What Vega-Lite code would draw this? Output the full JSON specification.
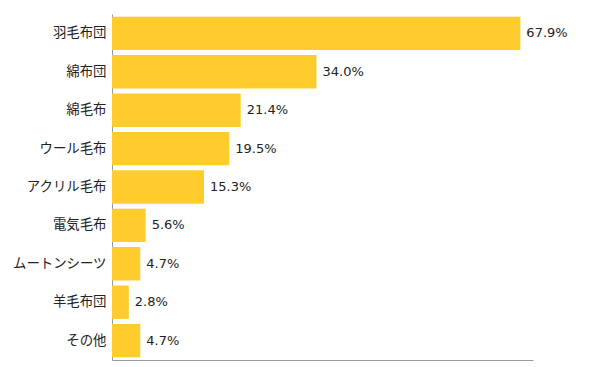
{
  "$schema": "https://vega.github.io/schema/vega-lite/v6.json",
  "width": 421,
  "height": 346,
  "autosize": {"type": "none"},
  "padding": {"left": 112, "top": 14, "right": 67, "bottom": 7},
  "background": "white",
  "config": {"view": {"stroke": null}, "font": "Noto Sans CJK JP"},
  "data": {"values": [
    {"item": "羽毛布団", "value": 0.679},
    {"item": "綿布団", "value": 0.340},
    {"item": "綿毛布", "value": 0.214},
    {"item": "ウール毛布", "value": 0.195},
    {"item": "アクリル毛布", "value": 0.153},
    {"item": "電気毛布", "value": 0.056},
    {"item": "ムートンシーツ", "value": 0.047},
    {"item": "羊毛布団", "value": 0.028},
    {"item": "その他", "value": 0.047}
  ]},
  "encoding": {
    "y": {"field": "item", "type": "nominal", "sort": null,
      "scale": {"paddingInner": 0.13, "paddingOuter": 0.07},
      "axis": {"title": null, "ticks": false, "domainColor": "#999999", "labelFontSize": 13.4, "labelColor": "#222222", "labelPadding": 6, "labelFont": "Noto Sans CJK JP"}},
    "x": {"field": "value", "type": "quantitative",
      "scale": {"domain": [0, 0.7]},
      "axis": {"title": null, "ticks": false, "labels": false, "grid": false, "domainColor": "#999999"}}
  },
  "layer": [
    {"mark": {"type": "bar", "color": "#FFCC2E"}},
    {"mark": {"type": "text", "align": "left", "dx": 6, "font": "DejaVu Sans", "fontSize": 13, "color": "#222222"},
     "encoding": {"text": {"field": "value", "type": "quantitative", "format": ".1%"}}}
  ]
}
